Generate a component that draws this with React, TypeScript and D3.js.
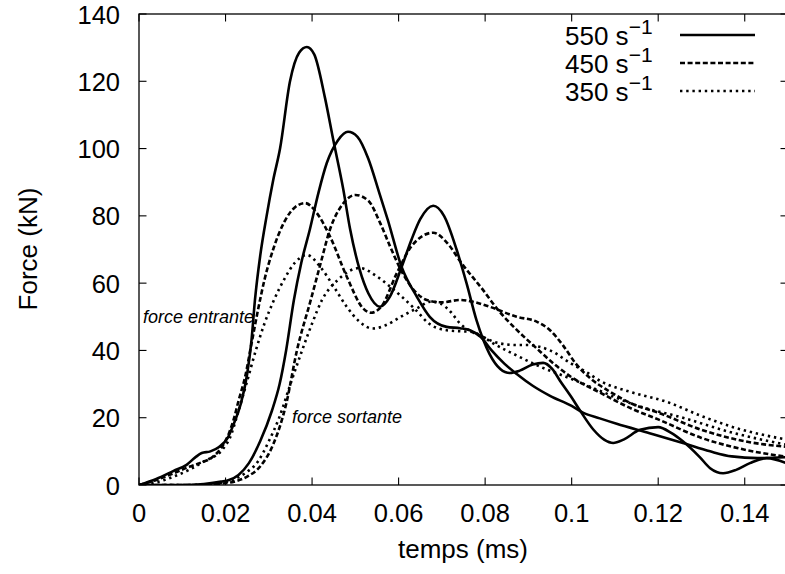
import React from "react";
import * as d3 from "d3";

// ---- data (time in ms, force in kN) ----
const xTicks = [0, 0.02, 0.04, 0.06, 0.08, 0.1, 0.12, 0.14];
const yTicks = [0, 20, 40, 60, 80, 100, 120, 140];

const seriesLabels = ["550", "450", "350"];

const entrant550: [number, number][] = [
  [0, 0], [0.004, 1.8], [0.008, 4.2], [0.011, 6], [0.013, 8.2], [0.0145, 9.5], [0.0165, 10],
  [0.0185, 11.3], [0.0205, 14], [0.022, 18.5], [0.0235, 24], [0.025, 33], [0.026, 43],
  [0.0268, 55], [0.028, 68], [0.0295, 80], [0.031, 90.5], [0.0326, 100], [0.0349, 120],
  [0.037, 128.5], [0.0388, 130.2], [0.0405, 128], [0.043, 115], [0.0449, 102.6], [0.0472, 88],
  [0.0488, 76], [0.051, 64], [0.053, 57], [0.0557, 53], [0.058, 56], [0.0607, 64.8], [0.063, 73],
  [0.065, 79], [0.068, 83], [0.0705, 80], [0.0734, 70], [0.0757, 60], [0.078, 49], [0.081, 39],
  [0.0835, 34.5], [0.0857, 33.3], [0.088, 34], [0.091, 35.8], [0.0934, 36.3], [0.0955, 34.5],
  [0.0973, 31], [0.1, 26], [0.102, 22], [0.105, 16.5], [0.1075, 13.5], [0.1096, 12.5],
  [0.112, 13.5], [0.1158, 16.4], [0.12, 17.2], [0.123, 15.5], [0.1257, 13], [0.1296, 8.3],
  [0.132, 5], [0.135, 3.5], [0.138, 4.5], [0.1412, 6.5], [0.1451, 8], [0.15, 6.3],
];

const sortante550: [number, number][] = [
  [0, 0], [0.01, 0], [0.015, 0.3], [0.019, 1], [0.0208, 1.5], [0.023, 3], [0.0254, 6.5],
  [0.028, 13], [0.0307, 22], [0.0325, 30], [0.034, 40], [0.0358, 55], [0.0375, 66],
  [0.0395, 76], [0.0415, 87], [0.0434, 95.7], [0.046, 102.5], [0.0483, 105], [0.0505, 103.5],
  [0.053, 97], [0.0555, 87], [0.0575, 78.8], [0.0607, 64.8], [0.0642, 56], [0.0672, 50],
  [0.0711, 47], [0.0742, 46.6], [0.0765, 46], [0.079, 44], [0.0815, 40], [0.0845, 36],
  [0.0873, 33], [0.091, 29.5], [0.095, 26.5], [0.1, 23.5], [0.1026, 21.5], [0.1065, 19.8],
  [0.1104, 18.2], [0.118, 15.4], [0.1257, 12.5], [0.132, 10], [0.137, 8.5], [0.143, 8],
  [0.15, 8.3],
];

const entrant450: [number, number][] = [
  [0, 0], [0.004, 1.5], [0.008, 3.5], [0.0116, 5.4], [0.014, 6.5], [0.017, 8.3], [0.0195, 12],
  [0.0208, 15.4], [0.022, 20], [0.023, 25], [0.0245, 32], [0.026, 42], [0.0275, 52],
  [0.029, 61], [0.031, 70], [0.0335, 78], [0.036, 82.5], [0.0384, 83.8], [0.041, 81],
  [0.0441, 74], [0.048, 62], [0.0518, 52.5], [0.0536, 51.2], [0.056, 53], [0.0596, 63],
  [0.063, 71], [0.068, 75], [0.0712, 72], [0.0745, 66], [0.0795, 58], [0.083, 52],
  [0.087, 46.5], [0.092, 40.5], [0.095, 37], [0.1, 32], [0.1065, 27.5], [0.1142, 22.5],
  [0.12, 19.5], [0.13, 14], [0.14, 10.5], [0.15, 8.3],
];

const sortante450: [number, number][] = [
  [0, 0], [0.012, 0], [0.018, 0.3], [0.022, 1], [0.025, 2.5], [0.028, 5.5], [0.031, 12],
  [0.034, 24], [0.0365, 40], [0.0397, 55], [0.042, 66], [0.0441, 75.8], [0.0471, 83.5],
  [0.05, 86.2], [0.053, 84.5], [0.0557, 78], [0.058, 71], [0.0607, 63.5], [0.0642, 57],
  [0.0665, 55], [0.07, 54.3], [0.0742, 55], [0.077, 54.5], [0.081, 53], [0.0873, 50],
  [0.092, 48.5], [0.095, 46], [0.098, 41.5], [0.101, 36], [0.1045, 31.5], [0.1085, 28],
  [0.1142, 24], [0.12, 21.5], [0.13, 16.4], [0.14, 13], [0.15, 11.3],
];

const entrant350: [number, number][] = [
  [0, 0], [0.004, 0.8], [0.008, 2.5], [0.0116, 4.5], [0.015, 7], [0.0192, 10.4], [0.021, 14],
  [0.023, 22], [0.0248, 30], [0.027, 40], [0.029, 48], [0.0312, 55], [0.0335, 61], [0.036, 66],
  [0.0388, 68.4], [0.0418, 65], [0.045, 59], [0.048, 53], [0.051, 48.5], [0.054, 46.5],
  [0.057, 47.5], [0.0605, 50], [0.0642, 52.5], [0.0675, 54.5], [0.0696, 54], [0.072, 51.5],
  [0.0742, 48], [0.077, 45.5], [0.0795, 44], [0.083, 42.2], [0.0873, 41.6], [0.0897, 41.6],
  [0.095, 40], [0.1, 36], [0.1035, 33.5], [0.1065, 31], [0.114, 27.5], [0.122, 24.7],
  [0.13, 20.5], [0.1373, 17.2], [0.15, 13.4],
];

const sortante350: [number, number][] = [
  [0, 0], [0.012, 0], [0.017, 0.3], [0.021, 1.2], [0.0245, 3.5], [0.0275, 7], [0.03, 13],
  [0.0324, 20], [0.035, 30], [0.0377, 40], [0.04, 48], [0.0423, 55], [0.046, 61],
  [0.051, 64.5], [0.055, 62], [0.058, 59], [0.0607, 56], [0.064, 52], [0.067, 48],
  [0.0711, 46], [0.0742, 45.7], [0.077, 45.5], [0.0795, 44], [0.082, 42], [0.0873, 38.5],
  [0.093, 35], [0.097, 33], [0.1, 31.5], [0.1065, 28], [0.1142, 24], [0.1257, 20],
  [0.1373, 15.5], [0.15, 11.9],
];

const W = 785;
const H = 574;
const plot = { left: 139, right: 788, top: 14, bottom: 485 };

const styles: Record<string, { width: number; dash?: string }> = {
  "550": { width: 2.6 },
  "450": { width: 2.6, dash: "5,2.6" },
  "350": { width: 2.6, dash: "2.4,3.8" },
};

export default function App() {
  const x = d3.scaleLinear().domain([0, 0.15]).range([plot.left, plot.right]);
  const y = d3.scaleLinear().domain([0, 140]).range([plot.bottom, plot.top]);
  const line = d3
    .line<[number, number]>()
    .x((d) => x(d[0]))
    .y((d) => y(d[1]))
    .curve(d3.curveMonotoneX);

  const curves: { key: string; data: [number, number][] }[] = [
    { key: "550", data: entrant550 },
    { key: "550", data: sortante550 },
    { key: "450", data: entrant450 },
    { key: "450", data: sortante450 },
    { key: "350", data: entrant350 },
    { key: "350", data: sortante350 },
  ];

  const font = "'Liberation Sans', Arial, Helvetica, sans-serif";
  const tickLen = 7.5;

  return (
    <svg
      width={W}
      height={H}
      style={{ position: "absolute", left: 0, top: 0, background: "#fff" }}
      fontFamily={font}
    >
      <defs>
        <clipPath id="plotclip">
          <rect x={plot.left} y={plot.top} width={plot.right - plot.left} height={plot.bottom - plot.top} />
        </clipPath>
      </defs>
      <rect x={0} y={0} width={W} height={H} fill="#fff" />

      {/* curves */}
      <g clipPath="url(#plotclip)">
        {curves.map((c, i) => (
          <path
            key={i}
            d={line(c.data) || ""}
            fill="none"
            stroke="#000"
            strokeWidth={styles[c.key].width}
            strokeDasharray={styles[c.key].dash}
            strokeLinejoin="round"
          />
        ))}
      </g>

      {/* frame */}
      <rect
        x={plot.left}
        y={plot.top}
        width={plot.right - plot.left}
        height={plot.bottom - plot.top}
        fill="none"
        stroke="#000"
        strokeWidth={1.3}
      />

      {/* x ticks */}
      {xTicks.map((t) => (
        <g key={"xt" + t}>
          <line x1={x(t)} x2={x(t)} y1={plot.bottom} y2={plot.bottom - tickLen} stroke="#000" strokeWidth={1.1} />
          <line x1={x(t)} x2={x(t)} y1={plot.top} y2={plot.top + tickLen} stroke="#000" strokeWidth={1.1} />
          <text x={x(t)} y={522} textAnchor="middle" fontSize={25.5} fill="#000">
            {String(t)}
          </text>
        </g>
      ))}

      {/* y ticks */}
      {yTicks.map((v) => (
        <g key={"yt" + v}>
          <line x1={plot.left} x2={plot.left + tickLen} y1={y(v)} y2={y(v)} stroke="#000" strokeWidth={1.1} />
          <line x1={plot.right} x2={plot.right - tickLen} y1={y(v)} y2={y(v)} stroke="#000" strokeWidth={1.1} />
          <text x={120} y={y(v) + 9.5} textAnchor="end" fontSize={25.5} fill="#000">
            {String(v)}
          </text>
        </g>
      ))}

      {/* axis titles */}
      <text x={463} y={558} textAnchor="middle" fontSize={26} fill="#000">
        temps (ms)
      </text>
      <text
        transform={`translate(37,249) rotate(-90)`}
        textAnchor="middle"
        fontSize={26}
        fill="#000"
      >
        Force (kN)
      </text>

      {/* annotations */}
      <text x={143} y={323} fontSize={18} fontStyle="italic" fill="#000">
        force entrante
      </text>
      <text x={292} y={423} fontSize={18} fontStyle="italic" fill="#000">
        force sortante
      </text>

      {/* legend */}
      {seriesLabels.map((s, i) => {
        const yy = 35 + i * 28;
        return (
          <g key={"lg" + s}>
            <text x={565} y={yy + 10} fontSize={26} fill="#000">
              {s} s
              <tspan dy={-11.5} fontSize={21}>
                −1
              </tspan>
            </text>
            <line
              x1={680}
              x2={755}
              y1={yy}
              y2={yy}
              stroke="#000"
              strokeWidth={styles[s].width}
              strokeDasharray={styles[s].dash}
            />
          </g>
        );
      })}
    </svg>
  );
}
